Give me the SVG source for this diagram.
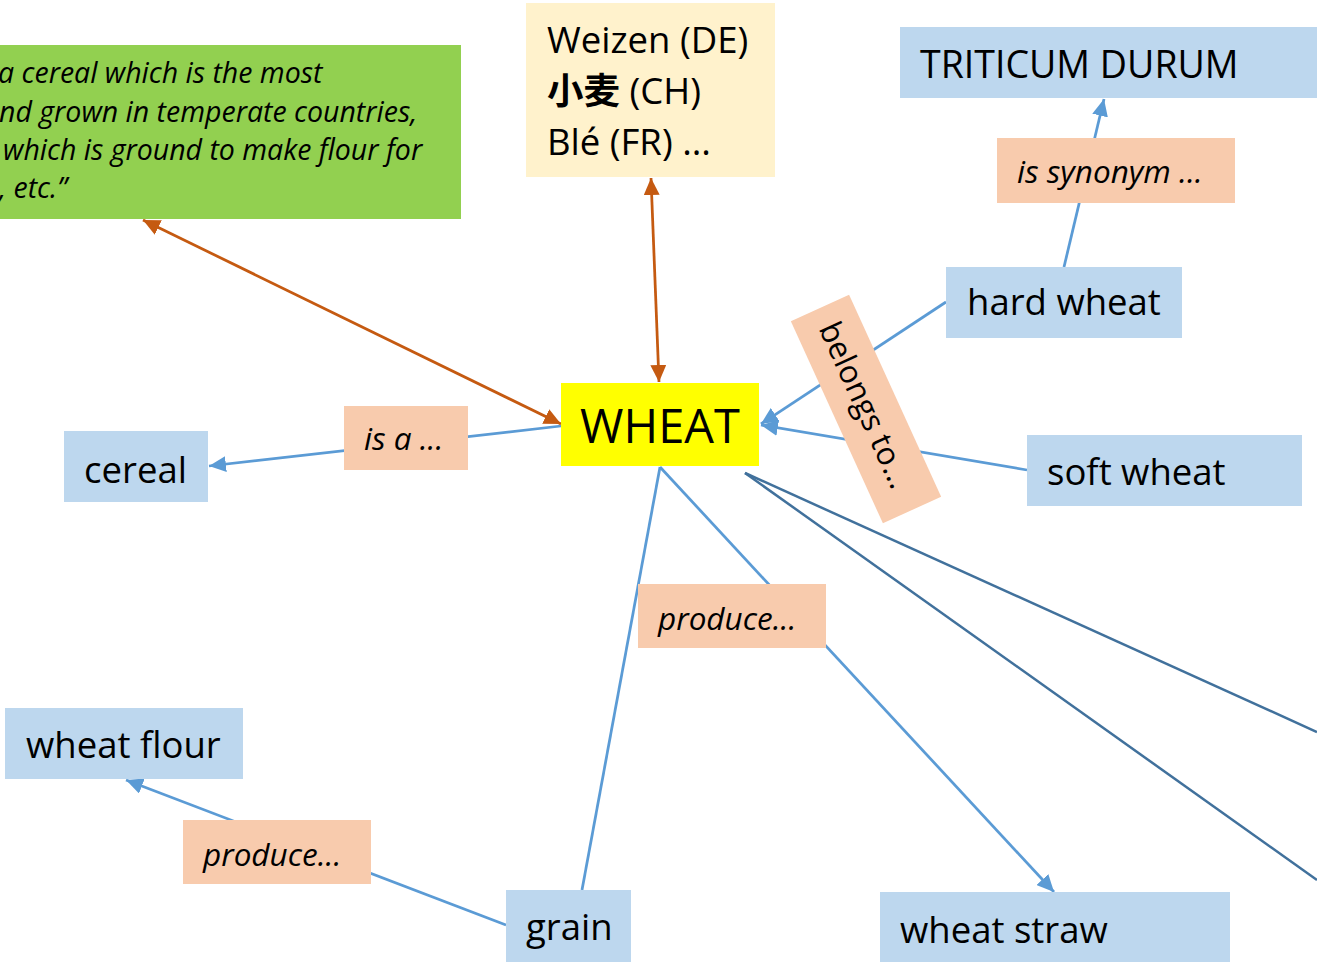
<svg xmlns="http://www.w3.org/2000/svg" width="1317" height="962" viewBox="0 0 1317 962">
<style>
text{font-family:"Open Sans","Noto Sans",sans-serif;fill:#000}
.n{fill:#BDD7EE}
.l{fill:#F8CBAD}
.t{font-size:36.5px}
.i{font-size:31.5px;font-style:italic}
.c{fill:none;stroke:#5B9BD5;stroke-width:2.75}
.o{fill:none;stroke:#C55A11;stroke-width:2.75}
.d{fill:none;stroke:#41719C;stroke-width:2.5}
</style>
<defs>
<marker id="ab" markerUnits="userSpaceOnUse" markerWidth="18" markerHeight="16" refX="17" refY="8" orient="auto-start-reverse"><path d="M0,0 L17,8 L0,16 z" fill="#5B9BD5"/></marker>
<marker id="ao" markerUnits="userSpaceOnUse" markerWidth="18" markerHeight="16" refX="17" refY="8" orient="auto-start-reverse"><path d="M0,0 L17,8 L0,16 z" fill="#C55A11"/></marker>
</defs>
<rect width="1317" height="962" fill="#fff"/>
<g id="connectors">
<path class="c" d="M1064,267 L1104,99" marker-end="url(#ab)"/>
<path class="c" d="M946,302 L761,424" marker-end="url(#ab)"/>
<path class="c" d="M1027,470 L761,425" marker-end="url(#ab)"/>
<path class="c" d="M561,426 L209,466" marker-end="url(#ab)"/>
<path class="o" d="M143,220 L561,424" marker-start="url(#ao)" marker-end="url(#ao)"/>
<path class="o" d="M651,178 L659,382" marker-start="url(#ao)" marker-end="url(#ao)"/>
<path class="c" d="M660,467 L1054,892" marker-end="url(#ab)"/>
<path class="c" d="M660,467 L582,890"/>
<path class="c" d="M506,925 L126,780" marker-end="url(#ab)"/>
<path class="d" d="M745,473 L1317,732"/>
<path class="d" d="M745,473 L1317,880"/>
</g>
<g id="definition">
<rect x="0" y="45" width="461" height="174" fill="#92D050"/>
<text font-size="28.5" font-style="italic">
<tspan x="-2" y="83">a cereal which is the most</tspan>
<tspan x="-1" y="122">nd grown in temperate countries,</tspan>
<tspan x="3" y="160">which is ground to make flour for</tspan>
<tspan x="-1" y="198">, etc.”</tspan>
</text>
</g>
<g id="translations">
<rect x="526" y="3" width="249" height="174" fill="#FFF2CC"/>
<text class="t" x="547" y="53">Weizen (DE)</text>
<text class="t" x="547" y="104"><tspan font-weight="bold" font-family="'Noto Sans CJK SC',sans-serif">小麦</tspan> (CH)</text>
<text class="t" x="547" y="155">Blé (FR) ...</text>
</g>
<g id="triticum">
<rect class="n" x="900" y="27" width="420" height="71"/>
<text x="920" y="78" font-size="37.5">TRITICUM DURUM</text>
</g>
<g id="synonym">
<rect class="l" x="997" y="138" width="238" height="65"/>
<text class="i" x="1017" y="183">is synonym ...</text>
</g>
<g id="hardwheat">
<rect class="n" x="946" y="267" width="236" height="71"/>
<text class="t" x="967" y="315">hard wheat</text>
</g>
<g id="wheat">
<rect x="561" y="383" width="198" height="83" fill="#FFFF00"/>
<text x="660" y="443" font-size="47" text-anchor="middle">WHEAT</text>
</g>
<g id="cereal">
<rect class="n" x="64" y="431" width="144" height="71"/>
<text class="t" x="84" y="483">cereal</text>
</g>
<g id="isa">
<rect class="l" x="344" y="406" width="124" height="64"/>
<text class="i" x="364" y="450">is a ...</text>
</g>
<g id="softwheat">
<rect class="n" x="1027" y="435" width="275" height="71"/>
<text class="t" x="1047" y="485">soft wheat</text>
</g>
<g id="belongs" transform="translate(866,409) rotate(65.5)">
<rect class="l" x="-111" y="-32" width="222" height="64"/>
<text x="-4" y="10" font-size="31.5" text-anchor="middle">belongs to...</text>
</g>
<g id="produce1">
<rect class="l" x="638" y="584" width="188" height="64"/>
<text class="i" x="658" y="630">produce...</text>
</g>
<g id="wheatstraw">
<rect class="n" x="880" y="892" width="350" height="70"/>
<text class="t" x="900" y="943">wheat straw</text>
</g>
<g id="grain">
<rect class="n" x="506" y="890" width="125" height="72"/>
<text class="t" x="526" y="940">grain</text>
</g>
<g id="wheatflour">
<rect class="n" x="5" y="708" width="238" height="71"/>
<text class="t" x="26" y="758">wheat flour</text>
</g>
<g id="produce2">
<rect class="l" x="183" y="820" width="188" height="64"/>
<text class="i" x="203" y="866">produce...</text>
</g>
</svg>
